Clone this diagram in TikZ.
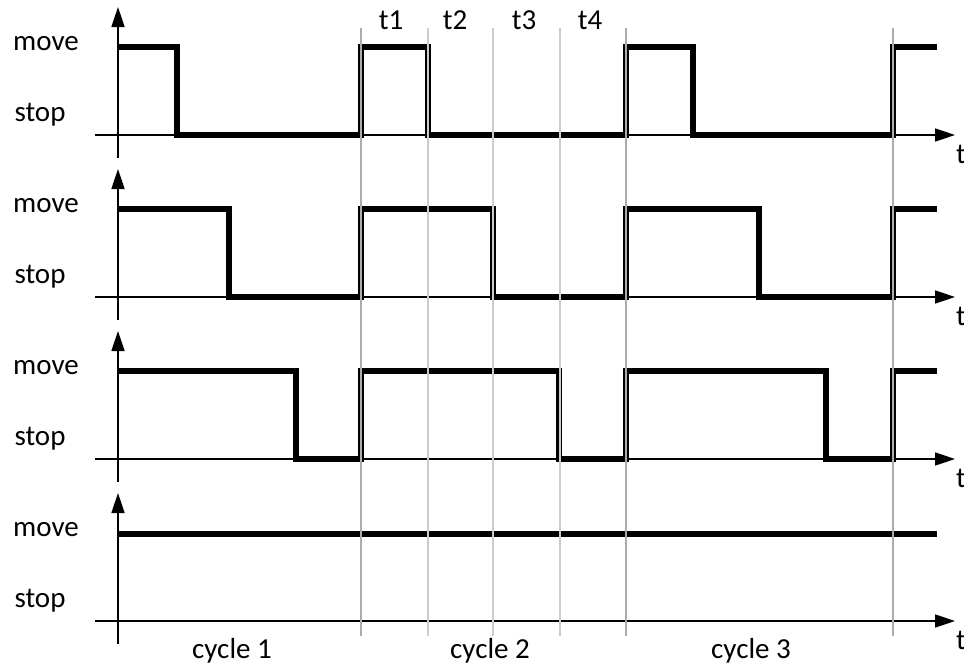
\documentclass[tikz,border=0pt]{standalone}
\usepackage{fontspec}
\setmainfont{Carlito}
\usetikzlibrary{arrows.meta}
\begin{document}
\begin{tikzpicture}[x=1pt,y=-1pt,
  axis/.style={line width=1.6pt, -{Triangle[length=20pt,width=13pt]}},
  sig/.style={line width=5.5pt, line join=miter, line cap=butt},
  gridln/.style={line width=1.4pt, gray!40},
  cycln/.style={line width=1.4pt, gray!65},
  lbl/.style={font=\fontsize{29}{32}\selectfont, inner sep=0pt}]
\useasboundingbox (0,0) rectangle (964,672);
% axes and labels
\foreach \i in {1,2,3,4}{
  \pgfmathsetmacro{\b}{135+162*(\i-1)}
  \coordinate (xs\i) at (95,\b);
  \coordinate (xe\i) at (955,\b);
  \coordinate (ys\i) at (118,\b+23);
  \coordinate (ye\i) at (118,\b-128);
  \draw[axis] (xs\i) -- (xe\i);
  \draw[axis] (ys\i) -- (ye\i);
  \node[lbl] (mv\i) at (46,\b-91) {move};
  \node[lbl] (st\i) at (40,\b-20) {stop};
  \node[lbl] (t\i) at (961,\b+19) {t};
}
% signals
\draw[sig] (118,47) -| (177,135) -| (361,47) -| (428,135) -| (626,47) -| (693,135) -| (893,47) -- (937,47);
\draw[sig] (118,209) -| (229,297) -| (361,209) -| (493,297) -| (626,209) -| (759,297) -| (893,209) -- (937,209);
\draw[sig] (118,371) -| (296,459) -| (361,371) -| (559,459) -| (626,371) -| (826,459) -| (893,371) -- (937,371);
\draw[sig] (118,534) -- (937,534);
% time grid
\foreach \x/\n in {361/a,626/d,893/e}{
  \coordinate (g\n t) at (\x,28);
  \coordinate (g\n b) at (\x,636);
  \draw[cycln] (g\n t) -- (g\n b);
}
\foreach \x/\n in {428/b,493/c,560/f}{
  \coordinate (g\n t) at (\x,28);
  \coordinate (g\n b) at (\x,636);
  \draw[gridln] (g\n t) -- (g\n b);
}
\node[lbl] (l1) at (391,20) {t1};
\node[lbl] (l2) at (455,20) {t2};
\node[lbl] (l3) at (524,20) {t3};
\node[lbl] (l4) at (590,20) {t4};
\node[lbl] (c1) at (232,651) {cycle 1};
\node[lbl] (c2) at (490,651) {cycle 2};
\node[lbl] (c3) at (751,651) {cycle 3};
\end{tikzpicture}
\end{document}
